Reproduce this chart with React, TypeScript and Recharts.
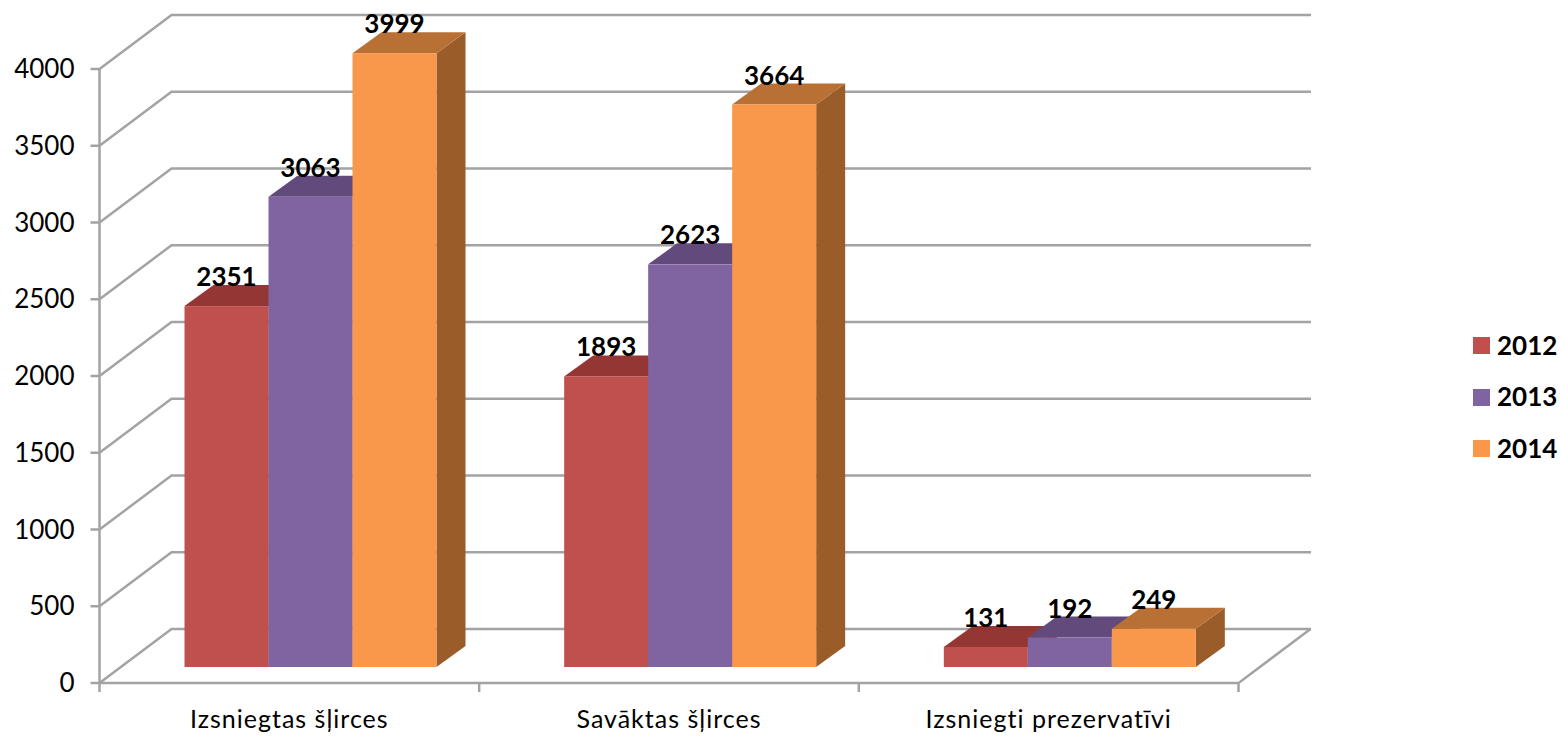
import { BarChart, Bar, XAxis, YAxis, Legend, LabelList, CartesianGrid } from 'recharts';

const categories = ['Izsniegtas šļirces', 'Savāktas šļirces', 'Izsniegti prezervatīvi'];
const values2012 = [2351, 1893, 131];
const values2013 = [3063, 2623, 192];
const values2014 = [3999, 3664, 249];
const yTicks = [0, 500, 1000, 1500, 2000, 2500, 3000, 3500, 4000];

const chartData = categories.map((name, i) => ({
    name,
    y2012: values2012[i],
    y2013: values2013[i],
    y2014: values2014[i]
}));

const FONT = 'Lato, sans-serif';
const GRID = '#a3a3a3';
const PLOT_LEFT = 99.5;
const PLOT_RIGHT = 1238.5;
const BAND = (PLOT_RIGHT - PLOT_LEFT) / categories.length;

// back wall offset of the fake 3D box
const WALL_DX = 72;
const WALL_DY = 54;
const WALL_END = 1311;

// bars sit a bit inside the floor, with their own depth
const BAR_SHIFT_X = 21.5;
const BAR_SHIFT_Y = 16;
const DEPTH_X = 29;
const DEPTH_Y = 21;

const Bar3D = (colors: { front: string; top: string; side: string }) => (props: any) => {
    const x = props.x + BAR_SHIFT_X;
    const y = props.y - BAR_SHIFT_Y;
    const { width: w, height: h } = props;
    return (
        <g>
            <polygon
                points={`${x + w},${y} ${x + w + DEPTH_X},${y - DEPTH_Y} ${x + w + DEPTH_X},${y + h - DEPTH_Y} ${x + w},${y + h}`}
                fill={colors.side}
            />
            <polygon
                points={`${x},${y} ${x + DEPTH_X},${y - DEPTH_Y} ${x + w + DEPTH_X},${y - DEPTH_Y} ${x + w},${y}`}
                fill={colors.top}
            />
            <rect x={x} y={y} width={w} height={h} fill={colors.front} />
        </g>
    );
};

const BarLabel = (props: any) => (
    <text
        x={props.x + props.width / 2 + BAR_SHIFT_X}
        y={props.y - BAR_SHIFT_Y - 20}
        textAnchor="middle"
        fontFamily={FONT}
        fontWeight={700}
        fontSize={26}
        fill="#000"
    >
        {props.value}
    </text>
);

// grid line: runs back along the side wall, then across the back wall
const WallLine = (props: any) => {
    const { x1, y1 } = props;
    return (
        <polyline
            key={props.key ?? y1}
            points={`${x1},${y1} ${x1 + WALL_DX},${y1 - WALL_DY} ${WALL_END},${y1 - WALL_DY}`}
            fill="none"
            stroke={GRID}
            strokeWidth={2.5}
        />
    );
};

const YTick = (props: any) => {
    const { x, y, payload } = props;
    return (
        <g>
            <line x1={x - 9} y1={y} x2={x} y2={y} stroke={GRID} strokeWidth={2.5} />
            <text x={x - 25} y={y + 9} textAnchor="end" fontFamily={FONT} fontSize={26} fill="#000">
                {payload.value}
            </text>
        </g>
    );
};

const XTick = (props: any) => {
    const { x, y, payload, index } = props;
    const left = x - BAND / 2;
    const right = x + BAND / 2;
    return (
        <g>
            <line x1={left} y1={y} x2={left} y2={y + 9} stroke={GRID} strokeWidth={2.5} />
            {index === categories.length - 1 && (
                <polyline
                    points={`${right},${y + 9} ${right},${y} ${right + WALL_DX},${y - WALL_DY}`}
                    fill="none"
                    stroke={GRID}
                    strokeWidth={2.5}
                />
            )}
            <text x={x} y={y + 45} textAnchor="middle" fontFamily={FONT} fontSize={25} letterSpacing={1} fill="#000">
                {payload.value}
            </text>
        </g>
    );
};

const LegendBox = (props: any) => (
    <div style={{ fontFamily: FONT, fontWeight: 700, fontSize: 26, color: '#000' }}>
        {props.payload.map((item: any) => (
            <div key={item.value} style={{ display: 'flex', alignItems: 'center', height: 51.5 }}>
                <div style={{ width: 17, height: 17, background: item.color, marginRight: 7 }} />
                <span style={{ position: 'relative', top: -1 }}>{item.value}</span>
            </div>
        ))}
    </div>
);

export default function App() {
    return (
        <div style={{ position: 'absolute', left: 0, top: 0, width: 1560, height: 736, background: '#fff' }}>
            <BarChart
                width={1560}
                height={736}
                data={chartData}
                margin={{ top: 69, right: 1560 - PLOT_RIGHT, bottom: 0, left: 0 }}
                barGap={0}
                barCategoryGap={63.5}
            >
                <CartesianGrid vertical={false} horizontal={WallLine} />
                <YAxis
                    width={PLOT_LEFT}
                    domain={[0, 4000]}
                    ticks={yTicks}
                    interval={0}
                    tickLine={false}
                    tickSize={0}
                    tickMargin={0}
                    axisLine={{ stroke: GRID, strokeWidth: 2.5 }}
                    tick={YTick}
                />
                <XAxis
                    dataKey="name"
                    height={53}
                    interval={0}
                    tickLine={false}
                    tickSize={0}
                    tickMargin={0}
                    axisLine={{ stroke: GRID, strokeWidth: 2.5 }}
                    tick={XTick}
                />
                <Legend
                    layout="vertical"
                    align="center"
                    verticalAlign="middle"
                    content={LegendBox}
                    wrapperStyle={{ left: 1473, top: 320, width: 87, bottom: 'auto' }}
                />
                <Bar
                    dataKey="y2012"
                    name="2012"
                    fill="#C0504D"
                    isAnimationActive={false}
                    shape={Bar3D({ front: '#C0504D', top: '#943634', side: '#8A3A37' })}
                >
                    <LabelList dataKey="y2012" content={BarLabel} />
                </Bar>
                <Bar
                    dataKey="y2013"
                    name="2013"
                    fill="#8064A2"
                    isAnimationActive={false}
                    shape={Bar3D({ front: '#8064A2', top: '#634A7C', side: '#5B4775' })}
                >
                    <LabelList dataKey="y2013" content={BarLabel} />
                </Bar>
                <Bar
                    dataKey="y2014"
                    name="2014"
                    fill="#F9974A"
                    isAnimationActive={false}
                    shape={Bar3D({ front: '#F9974A', top: '#B97034', side: '#9A5D2A' })}
                >
                    <LabelList dataKey="y2014" content={BarLabel} />
                </Bar>
            </BarChart>
        </div>
    );
}
